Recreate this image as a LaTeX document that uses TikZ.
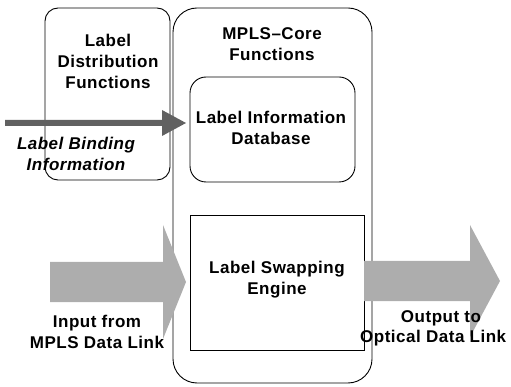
\documentclass[tikz,border=0pt]{standalone}
\usepackage{fontspec}
\setmainfont{Liberation Sans}
\usetikzlibrary{calc}
\begin{document}
\begin{tikzpicture}[x=1pt,y=-1pt,
  box/.style={draw, line width=0.9pt, outer sep=0pt, inner sep=0pt, anchor=north west},
  lbl/.style={font=\fontsize{17}{21}\selectfont\bfseries\addfontfeature{LetterSpace=3}, align=center, inner sep=0pt},
  darkfill/.style={fill=black!62},
  lightfill/.style={fill=black!32}]
\useasboundingbox (0,0) rectangle (511,387);

% functional blocks
\node[box, rounded corners=13pt, minimum width=125pt, minimum height=172pt] (ldf) at (45,8) {};
\node[box, rounded corners=24pt, minimum width=199pt, minimum height=375pt] (core) at (173,8) {};
\node[box, rounded corners=16pt, minimum width=165pt, minimum height=105pt] (db) at (190,77) {};
\node[box, minimum width=174pt, minimum height=135pt] (swap) at (190,215) {};

% label binding information flowing into the database
\coordinate (bindtail) at (5,123);
\coordinate (bindtip) at (186,123);
\fill[darkfill] ($(bindtail)+(0,-3)$) -- (162,120) -- (162,110) -- (bindtip)
  -- (162,136) -- (162,126) -- ($(bindtail)+(0,3)$) -- cycle;

% data path: input link -> swapping engine -> output link
\coordinate (intail) at (50,282);
\coordinate (intip) at (186,282);
\fill[lightfill] ($(intail)+(0,-20)$) -- (163,262) -- (163,225) -- (intip)
  -- (163,339) -- (163,302) -- ($(intail)+(0,20)$) -- cycle;

\coordinate (outtail) at (swap.east |- 0,281);
\coordinate (outtip) at (500,281);
\fill[lightfill] ($(outtail)+(0,-20)$) -- (470,261) -- (470,225) -- (outtip)
  -- (470,337) -- (470,301) -- ($(outtail)+(0,20)$) -- cycle;

% captions
\node[lbl] (ldft) at (108,61) {Label\\Distribution\\Functions};
\node[lbl] (coret) at (272,44) {MPLS–Core\\Functions};
\node[lbl] (dbt) at (271,128) {Label Information\\Database};
\node[lbl] (swapt) at (277,280) {Label Swapping\\Engine};
\node[lbl, font=\fontsize{17}{21}\selectfont\bfseries\itshape\addfontfeature{LetterSpace=3}] (bindt) at (76,154) {Label Binding\\Information};
\node[lbl] (int) at (97,332) {Input from\\MPLS Data Link};
\node[lbl] (outt) at (441,318) {Output to};
\node[lbl, anchor=west] (outt2) at (360,338) {Optical Data Link};
\end{tikzpicture}
\end{document}
